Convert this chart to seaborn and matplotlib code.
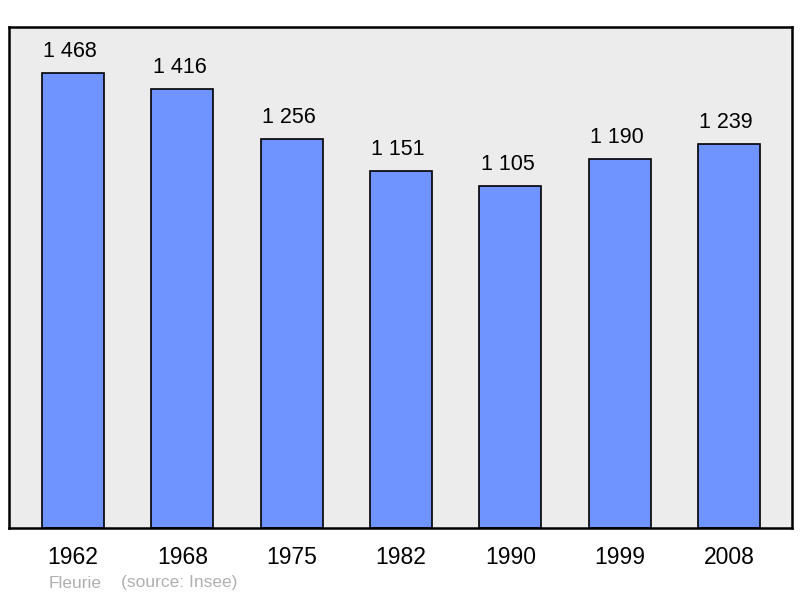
import matplotlib
matplotlib.use('Agg')
import matplotlib.pyplot as plt
import seaborn as sns
import pandas as pd

# ── DATA ──────────────────────────────────────────────────────────────────────
years = ["1962", "1968", "1975", "1982", "1990", "1999", "2008"]
population = [1468, 1416, 1256, 1151, 1105, 1190, 1239]
commune = "Fleurie"
source = "(source: Insee)"
# ─────────────────────────────────────────────────────────────────────────────

BAR_COLOR = "#7094ff"
BG_COLOR = "#ececec"

sns.set_theme(style="white")
plt.rcParams['font.family'] = ['Liberation Sans', 'DejaVu Sans']

df = pd.DataFrame({"year": years, "pop": population})

fig = plt.figure(figsize=(8, 5.98), dpi=100)
ax = fig.add_axes([9 / 800, 1 - 528 / 598, 783 / 800, 501 / 598])
ax.set_facecolor(BG_COLOR)

sns.barplot(data=df, x="year", y="pop", color=BAR_COLOR, width=0.567,
            edgecolor="black", linewidth=1.2, saturation=1, ax=ax)

for i, v in enumerate(population):
    label = f"{v:,}".replace(",", " ")
    ax.annotate(label, (i, v), xytext=(-2, 8), textcoords="offset points",
                ha="center", va="bottom", fontsize=15.5, color="black")

ax.set_xlim(-0.585, 6.576)
ax.set_ylim(0, 1617)
ax.set_xlabel("")
ax.set_ylabel("")
ax.set_yticks([])
ax.tick_params(axis="x", length=0, pad=13, labelsize=16.5, labelcolor="black")

for s in ax.spines.values():
    s.set_visible(True)
    s.set_color("black")
    s.set_linewidth(1.8)

fig.text(49 / 800, 1 - 583 / 598, commune, fontsize=12.5, color="#b0b0b0",
         ha="left", va="center")
fig.text(121 / 800, 1 - 583 / 598, source, fontsize=12.5, color="#b0b0b0",
         ha="left", va="center")

fig.savefig("out.png", dpi=100, facecolor="white")
plt.close(fig)
